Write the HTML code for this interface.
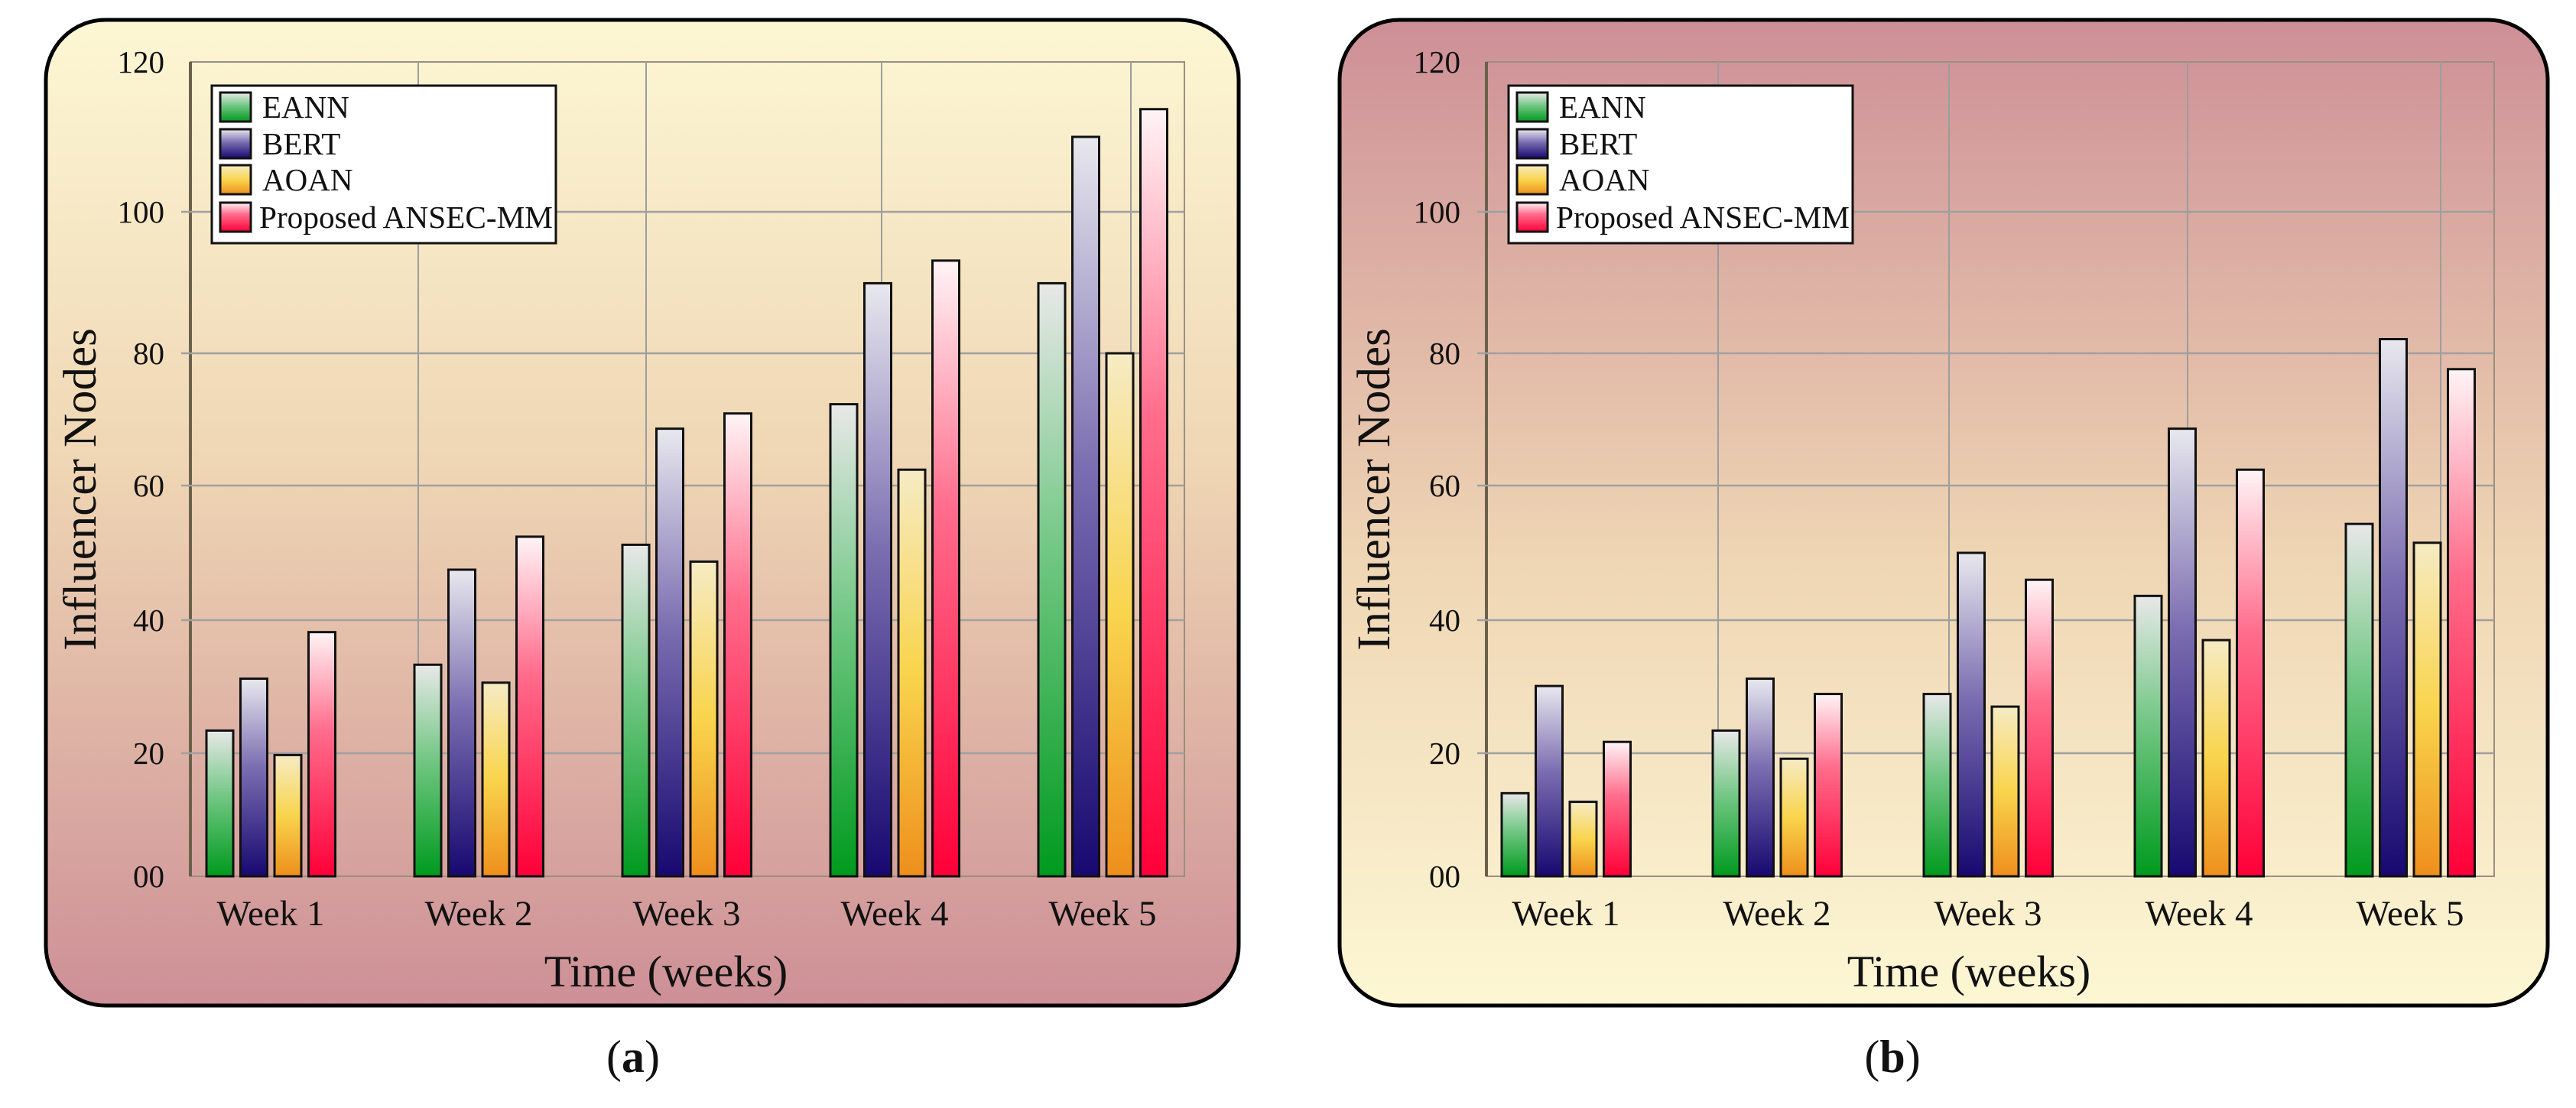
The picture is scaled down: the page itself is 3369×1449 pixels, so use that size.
<!DOCTYPE html>
<html><head><meta charset="utf-8"><style>
html,body{margin:0;padding:0;background:#fff;width:3369px;height:1449px;overflow:hidden}
svg{display:block}
text{font-family:"Liberation Serif",serif;fill:#111}
</style></head><body>
<svg id="root" width="3369" height="1449" viewBox="0 0 3369 1449" xmlns="http://www.w3.org/2000/svg">
<defs>
<linearGradient id="bgA" x1="0" y1="0" x2="0" y2="1"><stop offset="0" stop-color="#fdf7d4"/><stop offset="0.45" stop-color="#efd6b4"/><stop offset="1" stop-color="#cd8f96"/></linearGradient>
<linearGradient id="bgB" x1="0" y1="1" x2="0" y2="0"><stop offset="0" stop-color="#fdf7d4"/><stop offset="0.45" stop-color="#efd6b4"/><stop offset="1" stop-color="#cd8f96"/></linearGradient>
<linearGradient id="g0" x1="0" y1="0" x2="0" y2="1"><stop offset="0" stop-color="#e8e8e8"/><stop offset="0.45" stop-color="#72c784"/><stop offset="1" stop-color="#009a1e"/></linearGradient>
<linearGradient id="g1" x1="0" y1="0" x2="0" y2="1"><stop offset="0" stop-color="#e8e8ee"/><stop offset="0.45" stop-color="#7a6db0"/><stop offset="1" stop-color="#170870"/></linearGradient>
<linearGradient id="g2" x1="0" y1="0" x2="0" y2="1"><stop offset="0" stop-color="#f6ebc4"/><stop offset="0.5" stop-color="#f9d44c"/><stop offset="1" stop-color="#ee8f1c"/></linearGradient>
<linearGradient id="g3" x1="0" y1="0" x2="0" y2="1"><stop offset="0" stop-color="#fff4f6"/><stop offset="0.4" stop-color="#ff6d8c"/><stop offset="1" stop-color="#ff0038"/></linearGradient>
</defs>
</svg>
<script>
const categories=["Week 1","Week 2","Week 3","Week 4","Week 5"];
const seriesNames=["EANN","BERT","AOAN","Proposed ANSEC-MM"];
const tickValues=[0,20,40,60,80,100,120];
const tickLabels=["00","20","40","60","80","100","120"];
const aEANN=[23.4,33.3,51.2,72.3,89.9];
const aBERT=[31.2,47.5,68.6,89.9,110.0];
const aAOAN=[19.7,30.6,48.7,62.4,80.0];
const aANSEC=[38.2,52.4,70.9,93.1,113.7];
const bEANN=[13.5,23.4,28.9,43.6,54.3];
const bBERT=[30.1,31.2,50.0,68.6,82.0];
const bAOAN=[12.1,19.1,27.0,37.0,51.5];
const bANSEC=[21.7,28.9,46.0,62.4,77.6];

const NS="http://www.w3.org/2000/svg";
const root=document.getElementById('root');
function mk(tag,attrs,parent){const e=document.createElementNS(NS,tag);for(const k in attrs)e.setAttribute(k,attrs[k]);(parent||root).appendChild(e);return e;}
const tickPix=[1146,985,811,635,462,277,81];
function yScale(v){for(let i=0;i<tickValues.length-1;i++){if(v<=tickValues[i+1]||i===tickValues.length-2){const t=(v-tickValues[i])/(tickValues[i+1]-tickValues[i]);return tickPix[i]+t*(tickPix[i+1]-tickPix[i]);}}}

function panel(cfg){
  const g=mk('g',{});
  
  
  const bg=mk('rect',{x:cfg.px,y:26,width:cfg.pw,height:1289,rx:78,ry:78,fill:cfg.bg,stroke:'#000','stroke-width':5},g);
  
  
  const fr=mk('rect',{x:cfg.l,y:81,width:cfg.r-cfg.l,height:1146-81,fill:'none',stroke:'#9a8f80','stroke-width':2},g);
  
  
  mk('line',{x1:cfg.l,y1:81,x2:cfg.l,y2:1146,stroke:'#6b604a','stroke-width':4},g);
  cfg.vgrid.forEach(x=>{const l=mk('line',{x1:x,y1:81,x2:x,y2:1146,stroke:'#9d9d9d','stroke-width':2},g);});
  tickValues.forEach((v,i)=>{
    const y=yScale(v);
    if(i>0&&i<tickValues.length-1){const l=mk('line',{x1:cfg.l-12,y1:y,x2:cfg.r,y2:y,stroke:'#a0a0a0','stroke-width':2.5},g);}
    const t=mk('text',{x:cfg.l-34,y:y+14,'text-anchor':'end','font-size':41},g);t.textContent=tickLabels[i];
    
    
  });
  const series=cfg.series;
  const bw=35,bstep=44.5;
  categories.forEach((c,i)=>{
    const gx=cfg.x0+i*cfg.step;
    series.forEach((s,j)=>{
      const y=yScale(s[i]),y0=yScale(0);
      const b=mk('rect',{x:gx+j*bstep,y:y,width:bw,height:y0-y,fill:'url(#g'+j+')',stroke:'#111','stroke-width':3},g);
      
      
    });
    const t=mk('text',{x:gx+2*bstep-5,y:1210,'text-anchor':'middle','font-size':47},g);t.textContent=c;
    
    
  });
  const yt=mk('text',{x:0,y:0,'text-anchor':'middle','font-size':61,transform:'translate('+(cfg.ytx+20)+',640) rotate(-90)'},g);yt.textContent='Influencer Nodes';
  
  
  const xt=mk('text',{x:cfg.xtx,y:1290,'text-anchor':'middle','font-size':58},g);xt.textContent='Time (weeks)';
  
  
  const lg=mk('g',{},g);
  
  
  mk('rect',{x:cfg.lx,y:112,width:450,height:206,fill:'#fff',stroke:'#111','stroke-width':3},lg);
  const rows=[140,188,235,284];
  seriesNames.forEach((n,j)=>{
    const e=mk('g',{},lg);
    
    
    mk('rect',{x:cfg.lx+11,y:rows[j]-19,width:40,height:38,fill:'url(#g'+j+')',stroke:'#111','stroke-width':3},e);
    const t=mk('text',{x:cfg.lx+(j===3?62:66),y:rows[j]+14,'font-size':41},e);t.textContent=n;
    if(j===3){t.setAttribute('textLength','384');t.setAttribute('lengthAdjust','spacingAndGlyphs');}
  });
  const cap=mk('text',{x:cfg.capx,y:1402,'text-anchor':'middle','font-size':60},g);
  cap.innerHTML='(<tspan font-weight="bold">'+cfg.cap+'</tspan>)';
  
  
}
panel({name:'chart-a',px:60,pw:1560,bg:'url(#bgA)',l:249,r:1549,vgrid:[547,845,1153,1479],series:[aEANN,aBERT,aAOAN,aANSEC],x0:270,step:272,ytx:105,xtx:871,lx:277,capx:828,cap:'a'});
panel({name:'chart-b',px:1752,pw:1580,bg:'url(#bgB)',l:1944,r:3262,vgrid:[2247,2549,2861,3192],series:[bEANN,bBERT,bAOAN,bANSEC],x0:1964,step:276,ytx:1797,xtx:2575,lx:1973,capx:2475,cap:'b'});
</script>
</body></html>
